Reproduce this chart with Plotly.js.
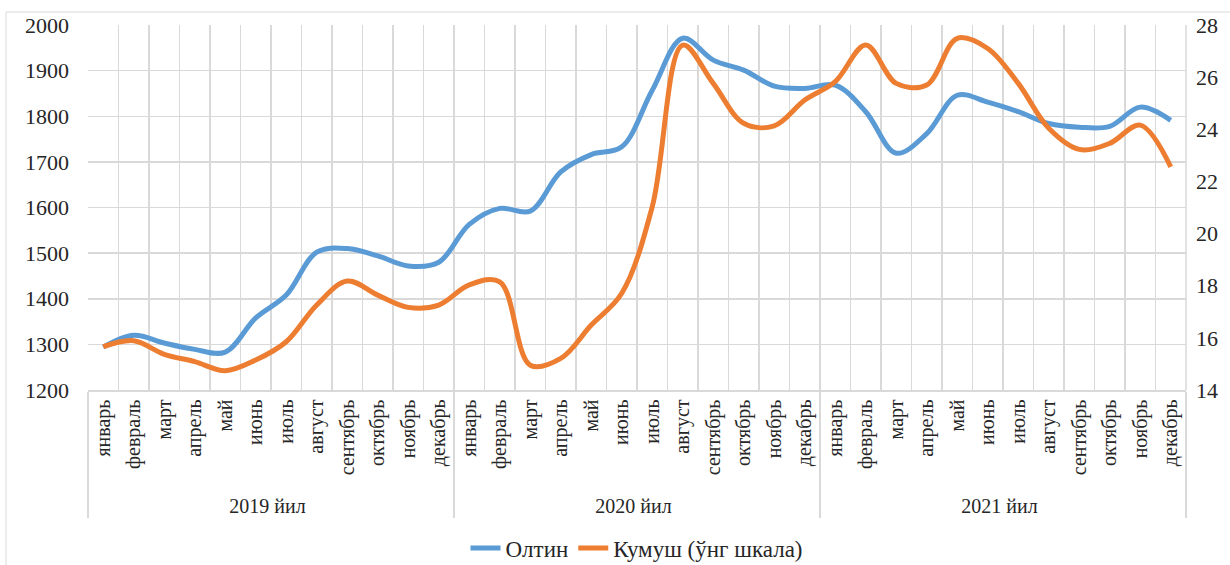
<!DOCTYPE html>
<html>
<head>
<meta charset="utf-8">
<script src="https://cdn.plot.ly/plotly-3.0.1.min.js"></script>
<style>
  html, body { margin: 0; padding: 0; background: #fff; }
  #plot { width: 1230px; height: 565px; }
</style>
</head>
<body>
<div id="plot"></div>
<script>
const years = ["2019 йил", "2020 йил", "2021 йил"];
const months = ["январь", "февраль", "март", "апрель", "май", "июнь", "июль",
  "август", "сентябрь", "октябрь", "ноябрь", "декабрь"];

// Олтин, left axis
const gold = [
  1294, 1320, 1303, 1289, 1283, 1358, 1408, 1502, 1510, 1494, 1472, 1480,
  1563, 1598, 1592, 1678, 1716, 1733, 1857, 1971, 1923, 1901, 1866, 1861,
  1868, 1810, 1719, 1762, 1846, 1831, 1810, 1784, 1776, 1778, 1820, 1791
];
// Кумуш, right axis
const silver = [
  15.66, 15.89, 15.37, 15.09, 14.74, 15.15, 15.85, 17.26, 18.18, 17.64, 17.17, 17.26,
  18.03, 18.15, 14.95, 15.21, 16.49, 17.71, 21.03, 27.23, 25.76, 24.23, 24.13, 25.12,
  25.83, 27.23, 25.76, 25.70, 27.49, 27.10, 25.76, 24.04, 23.23, 23.46, 24.16, 22.56
];

const xYear = [], xMonth = [];
years.forEach(y => months.forEach(m => { xYear.push(y); xMonth.push(m); }));

const serif = "Liberation Serif";
const ink = "#262626";
const gridColor = "#d9d9d9";

const traces = [
  {
    x: [xYear, xMonth], y: gold, name: "Олтин",
    mode: "lines", line: { color: "#5b9bd5", width: 5, shape: "spline", smoothing: 1 }
  },
  {
    x: [xYear, xMonth], y: silver, name: "Кумуш (ўнг шкала)", yaxis: "y2",
    mode: "lines", line: { color: "#ed7d31", width: 5, shape: "spline", smoothing: 1 }
  }
];

const layout = {
  width: 1230, height: 565,
  margin: { l: 88, r: 44, t: 25, b: 175, autoexpand: false },
  paper_bgcolor: "#fff", plot_bgcolor: "#fff",
  font: { family: serif, size: 20, color: ink },
  showlegend: true,
  legend: {
    orientation: "h", x: 0.5, xanchor: "center", y: -0.433, yanchor: "middle",
    font: { family: serif, size: 23, color: ink },
    traceorder: "normal"
  },
  xaxis: {
    type: "multicategory",
    range: [-0.5, 35.5],
    tickangle: -90,
    tickfont: { family: serif, size: 20, color: ink },
    showgrid: true, gridcolor: gridColor, gridwidth: 1.5,
    showline: true, linecolor: gridColor, linewidth: 1.5,
    ticks: "", showdividers: true, dividercolor: gridColor, dividerwidth: 1.5
  },
  yaxis: {
    range: [1200, 2000], dtick: 100, tick0: 1200,
    showgrid: true, gridcolor: gridColor, gridwidth: 1.5,
    zeroline: false, ticks: "", showline: false, ticklabelstandoff: 18,
    tickfont: { family: serif, size: 22, color: ink }
  },
  yaxis2: {
    overlaying: "y", side: "right",
    range: [14, 28], dtick: 2, tick0: 14,
    showgrid: false, zeroline: false, ticks: "", showline: false, ticklabelstandoff: 9,
    tickfont: { family: serif, size: 22, color: ink }
  },
  shapes: [
    { type: "rect", xref: "paper", yref: "paper",
      x0: -0.0747, x1: 1.045, y0: -0.52, y1: 1.0356,
      line: { color: "#d9d9d9", width: 1 } },
    { type: "line", xref: "paper", yref: "paper", x0: 1, x1: 1, y0: 0, y1: 1,
      line: { color: gridColor, width: 1.5 } }
  ]
};

Plotly.newPlot("plot", traces, layout, { displayModeBar: false, staticPlot: true });
</script>
</body>
</html>
